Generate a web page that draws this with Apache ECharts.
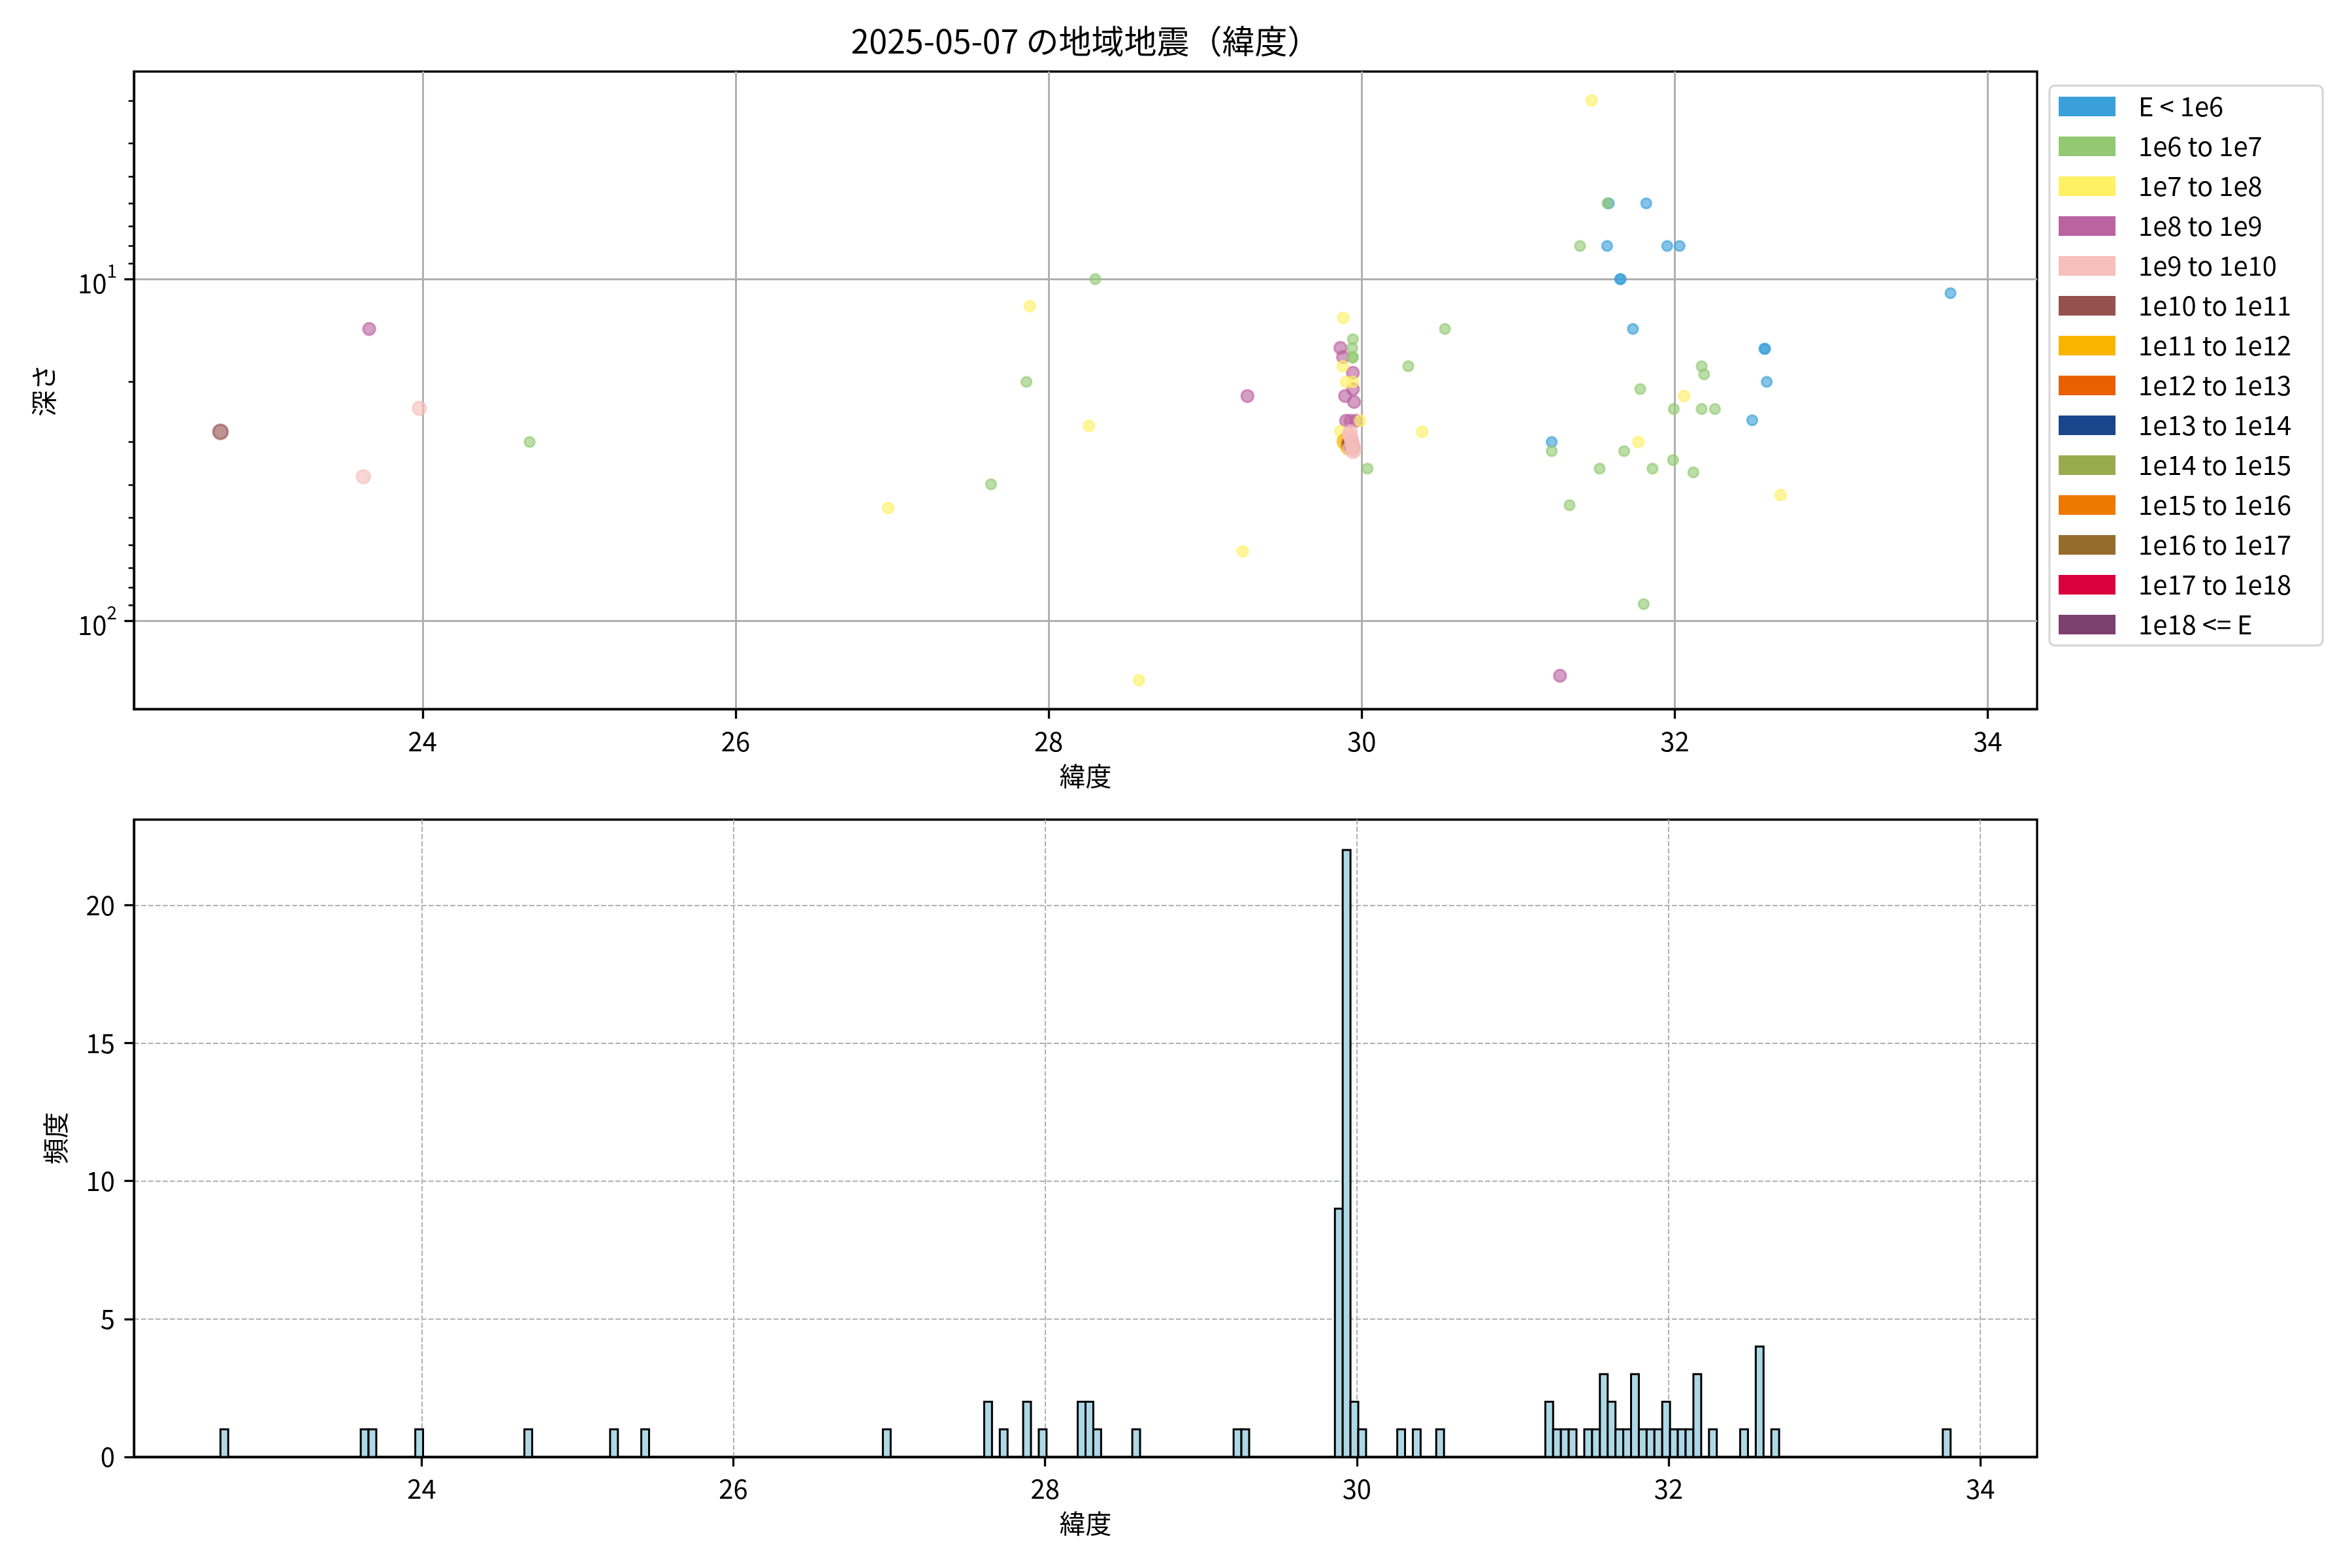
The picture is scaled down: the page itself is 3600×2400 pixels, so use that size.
<!DOCTYPE html>
<html>
<head>
<meta charset="utf-8">
<script src="https://cdn.jsdelivr.net/npm/echarts@6/dist/echarts.min.js"></script>
<style>html,body{margin:0;padding:0;background:#fff}#c{width:3600px;height:2400px}</style>
</head>
<body>
<div id="c"></div>
<script>
// ---------------- data ----------------
const chartTitle = '2025-05-07 の地域地震（緯度）';
const classNames = ['E < 1e6','1e6 to 1e7','1e7 to 1e8','1e8 to 1e9','1e9 to 1e10','1e10 to 1e11','1e11 to 1e12','1e12 to 1e13','1e13 to 1e14','1e14 to 1e15','1e15 to 1e16','1e16 to 1e17','1e17 to 1e18','1e18 <= E'];
const classColors = ['#3AA0DA','#93C972','#FFF064','#BB62A0','#F5BFBB','#95514D','#F7B500','#EA6000','#1B458C','#9AAB4E','#EF7800','#956C2B','#DA003B','#7C406F'];

// scatter points: latitude, depth (km), energy class index
const quakeLat = [22.709,23.659,23.980,23.622,24.684,
  28.298,27.880,29.882,30.298,27.858,29.270,28.258,30.386,30.037,27.632,26.975,29.240,28.577,
  31.469,31.570,31.579,31.818,31.395,31.568,31.952,32.031,31.651,31.655,33.762,30.532,31.733,32.572,32.578,
  32.172,32.188,32.588,31.780,32.060,31.994,32.172,32.257,32.495,31.214,31.768,31.214,31.677,31.989,
  31.520,31.858,32.119,32.676,31.328,31.802,31.267,
  29.944,29.864,29.940,29.881,29.944,29.942,29.879,29.944,29.900,29.944,29.944,29.894,29.951,
  29.900,29.928,29.962,29.990,29.864,29.928,29.894,29.923,29.937,29.951,
  29.930,29.935,29.940,29.925,29.915,29.918,29.930,29.945,29.920];
const quakeDepth = [28.0,14.0,23.9,37.9,30.0,
  10.0,12.0,13.0,18.0,20.0,22.0,26.9,28.0,35.9,39.9,46.8,62.7,149.4,
  3.0,6.0,6.0,6.0,8.0,8.0,8.0,8.0,10.0,10.0,11.0,14.0,14.0,16.0,16.0,
  18.0,19.0,20.0,21.0,22.0,24.0,24.0,24.0,25.9,30.0,30.0,31.9,31.9,33.9,
  35.9,35.9,36.8,42.9,45.9,89.5,145.0,
  15.0,15.9,15.9,16.9,16.9,17.0,18.0,18.8,20.0,20.0,21.0,22.0,22.9,
  26.0,26.0,26.0,26.0,27.9,28.0,29.9,30.4,31.0,31.6,
  29.0,29.5,30.5,31.2,30.0,31.0,30.0,32.0,28.5];
const quakeClass = [5,3,4,4,1,
  1,2,2,1,1,3,2,2,1,1,2,2,2,
  2,1,0,0,1,0,0,0,0,0,0,1,0,0,0,
  1,1,0,1,2,1,1,1,0,0,2,1,1,1,
  1,1,1,2,1,1,3,
  1,3,1,3,1,1,2,3,2,2,3,3,3,
  3,3,3,2,2,4,6,5,5,4,
  4,4,4,4,6,6,5,4,4];

// histogram: bin left edges (latitude), bin width, counts
const histBinWidth = 0.05;
const histBinLeft = [22.709,23.609,23.659,23.959,24.659,25.209,25.409,26.959,
  27.609,27.709,27.859,27.959,28.209,28.259,28.309,28.559,29.209,29.259,
  29.859,29.909,29.959,30.009,30.259,30.359,30.509,
  31.209,31.259,31.309,31.359,31.459,31.509,31.559,31.609,31.659,31.709,31.759,31.809,31.859,31.909,
  31.959,32.009,32.059,32.109,32.159,32.259,32.459,32.559,32.659,33.759];
const histCounts = [1,1,1,1,1,1,1,1,
  2,1,2,1,2,2,1,1,1,1,
  9,22,2,1,1,1,1,
  2,1,1,1,1,1,3,2,1,1,3,1,1,1,
  2,1,1,1,3,1,1,4,1,1];

const latTicks = [24,26,28,30,32,34];
const depthMajorTicks = [10,100];
const depthMinorTicks = [3,4,5,6,7,8,9,20,30,40,50,60,70,80,90];
const countTicks = [0,5,10,15,20];

// ---------------- chart ----------------
const FONT = '"Noto Sans CJK JP", "Noto Sans", sans-serif';
const classSizes = [15.5,15.5,16.5,18.5,20.5,22.5,23.5,24.5,25.5,26.5,27.5,28.5,29.5,30.5];
const classZ = [3.0,3.3,3.2,3.1,3.6,3.5,3.4,3.7,3.7,3.7,3.7,3.7,3.7,3.7];

const chart = echarts.init(document.getElementById('c'), null, {renderer: 'canvas'});

const scatterSeries = classNames.map((name, c) => {
  const data = [];
  for (let i = 0; i < quakeLat.length; i++) {
    if (quakeClass[i] === c) data.push([quakeLat[i], quakeDepth[i]]);
  }
  return {
    name: name,
    type: 'scatter',
    xAxisIndex: 0,
    yAxisIndex: 0,
    data: data,
    symbol: 'circle',
    symbolSize: classSizes[c],
    itemStyle: {color: classColors[c], opacity: 0.62, borderColor: classColors[c], borderWidth: 3},
    emphasis: {disabled: true},
    z: classZ[c]
  };
});

const histSeries = {
  type: 'custom',
  name: 'hist',
  xAxisIndex: 1,
  yAxisIndex: 2,
  data: histBinLeft.map((l, i) => [l, l + histBinWidth, histCounts[i]]),
  encode: {x: [0, 1], y: 2},
  renderItem: function (params, api) {
    const p0 = api.coord([api.value(0), api.value(2)]);
    const p1 = api.coord([api.value(1), 0]);
    return {
      type: 'rect',
      shape: {x: p0[0], y: p0[1], width: p1[0] - p0[0], height: p1[1] - p0[1]},
      style: {fill: '#ADD8E6', stroke: '#000000', lineWidth: 3}
    };
  },
  z: 3
};

const axisText = {color: '#000', fontSize: 40, fontFamily: FONT};
const spine = {show: true, onZero: false, lineStyle: {color: '#000', width: 3.3}};

const option = {
  animation: false,
  backgroundColor: '#ffffff',
  graphic: [{
    type: 'text',
    x: 1661.5,
    y: 38,
    style: {text: chartTitle, fontSize: 50, fontFamily: FONT, fill: '#000', textAlign: 'center', textVerticalAlign: 'top'}
  }],
  legend: {
    orient: 'vertical',
    left: 3137,
    top: 131,
    width: 420,
    itemWidth: 87,
    itemHeight: 30,
    itemGap: 21,
    padding: [12, 48, 12, 14],
    borderColor: '#d4d4d4',
    borderWidth: 3,
    borderRadius: 8,
    backgroundColor: '#ffffff',
    icon: 'rect',
    selectedMode: false,
    textStyle: {color: '#000', fontSize: 40, fontFamily: FONT, lineHeight: 40, padding: [0, 0, 0, 30]},
    data: classNames.map((n, c) => ({name: n, icon: 'rect', itemStyle: {color: classColors[c], opacity: 1, borderWidth: 0}}))
  },
  grid: [
    {left: 205, top: 109.5, width: 2913, height: 976, show: true, borderColor: '#000', borderWidth: 3.3, backgroundColor: 'transparent', containLabel: false},
    {left: 205, top: 1254.5, width: 2913, height: 975.5, show: true, borderColor: '#000', borderWidth: 3.3, backgroundColor: 'transparent', containLabel: false}
  ],
  xAxis: [
    {
      type: 'value', gridIndex: 0, min: 22.156, max: 34.315,
      name: '緯度', nameLocation: 'middle', nameGap: 82, nameTextStyle: axisText,
      axisLine: spine,
      axisTick: {show: true, length: 14.6, lineStyle: {color: '#000', width: 3.3}, customValues: latTicks},
      axisLabel: Object.assign({margin: 29, customValues: latTicks}, axisText),
      splitLine: {show: true, lineStyle: {color: '#b0b0b0', width: 3, type: 'solid'}}
    },
    {
      type: 'value', gridIndex: 1, min: 22.154, max: 34.364,
      name: '緯度', nameLocation: 'middle', nameGap: 82, nameTextStyle: axisText,
      axisLine: spine,
      axisTick: {show: true, length: 14.6, lineStyle: {color: '#000', width: 3.3}, customValues: latTicks},
      axisLabel: Object.assign({margin: 29, customValues: latTicks}, axisText),
      splitLine: {show: true, lineStyle: {color: '#b0b0b0', width: 2, type: [7.7, 3.3]}}
    }
  ],
  yAxis: [
    {
      type: 'log', logBase: 10, gridIndex: 0, position: 'left', min: 2.468, max: 181.7, inverse: true,
      name: '深さ', nameLocation: 'middle', nameGap: 118, nameRotate: 90, nameTextStyle: axisText,
      axisLine: spine,
      axisTick: {show: true, length: 14.6, lineStyle: {color: '#000', width: 3.3}, customValues: depthMajorTicks},
      axisLabel: {
        margin: 26, customValues: depthMajorTicks, color: '#000',
        formatter: function (v) { return '{b|10}{s|' + Math.round(Math.log10(v)) + '}'; },
        rich: {
          b: {fontSize: 40, fontFamily: FONT, color: '#000', lineHeight: 54, verticalAlign: 'bottom'},
          s: {fontSize: 28, fontFamily: FONT, color: '#000', lineHeight: 30, verticalAlign: 'top'}
        }
      },
      splitLine: {show: true, lineStyle: {color: '#b0b0b0', width: 3, type: 'solid'}},
      minorTick: {show: false}
    },
    {
      type: 'log', logBase: 10, gridIndex: 0, position: 'left', offset: 0, min: 2.468, max: 181.7, inverse: true,
      axisLine: {show: false},
      axisTick: {show: true, length: 8.3, lineStyle: {color: '#000', width: 2.5}, customValues: depthMinorTicks},
      axisLabel: {show: false},
      splitLine: {show: false}
    },
    {
      type: 'value', gridIndex: 1, position: 'left', min: 0, max: 23.1, interval: 5,
      name: '頻度', nameLocation: 'middle', nameGap: 100, nameRotate: 90, nameTextStyle: axisText,
      axisLine: spine,
      axisTick: {show: true, length: 14.6, lineStyle: {color: '#000', width: 3.3}, customValues: countTicks},
      axisLabel: Object.assign({margin: 29, customValues: countTicks}, axisText),
      splitLine: {show: true, showMinLine: false, showMaxLine: true, lineStyle: {color: '#b0b0b0', width: 2, type: [7.7, 3.3]}}
    }
  ],
  series: scatterSeries.concat([histSeries])
};

chart.setOption(option);
</script>
</body>
</html>
